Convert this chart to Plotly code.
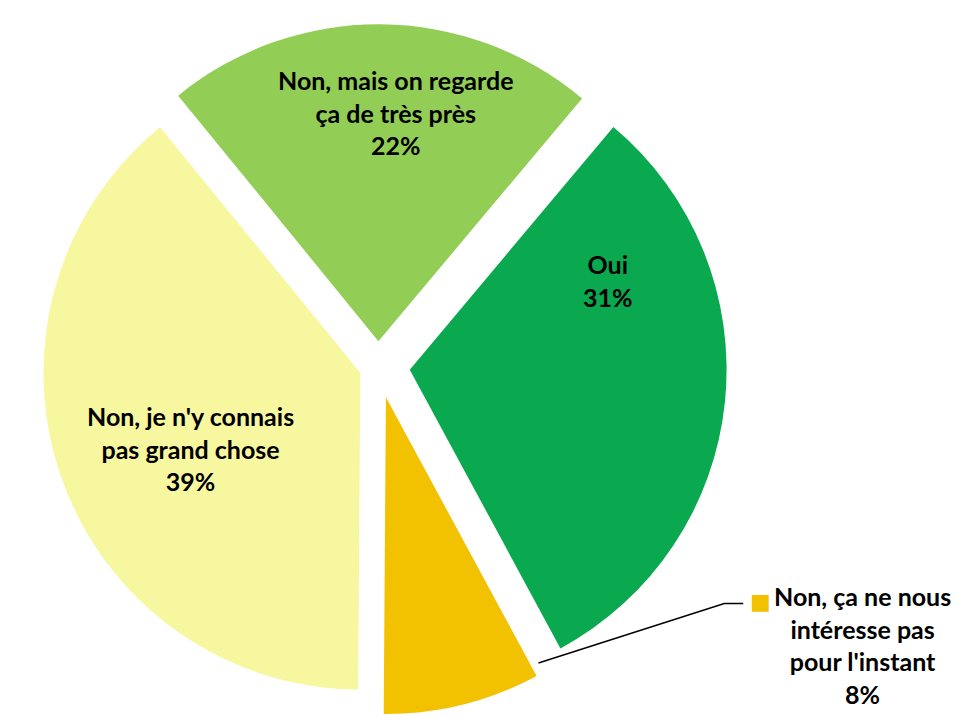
import plotly.graph_objects as go

labels = ["Oui", "Non, ça ne nous intéresse pas pour l'instant",
          "Non, je n'y connais pas grand chose", "Non, mais on regarde ça de très près"]
values = [31, 8, 39, 22]
label_lines = ["Oui", "Non, ça ne nous<br>intéresse pas<br>pour l'instant",
               "Non, je n'y connais<br>pas grand chose", "Non, mais on regarde<br>ça de très près"]
colors = ["#0AA84F", "#F2C200", "#F7F7A0", "#92CD55"]
pulls = [0.1, 0.1, 0.06, 0.08]

# label anchor positions (paper coords)
label_pos = [(0.622, 0.624), (0.891, 0.1), (0.182, 0.383), (0.399, 0.864)]

FONT = dict(family="Lato", size=25, color="#000000", weight="bold")

fig = go.Figure(go.Pie(
    labels=labels, values=values, textinfo="none",
    marker=dict(colors=colors, line=dict(width=0)),
    sort=False, direction="clockwise", rotation=40, pull=pulls,
    domain=dict(x=[0.0, 0.76], y=[0.0, 1.0]),
    showlegend=False, hoverinfo="label+percent",
))

for lab, v, (px, py) in zip(label_lines, values, label_pos):
    fig.add_annotation(
        x=px, y=py, xref="paper", yref="paper",
        xanchor="center", yanchor="middle",
        text=f"{lab}<br>{v}%", showarrow=False, align="center",
        font=FONT,
    )

fig.add_annotation(
    x=0.783, y=0.163, xref="paper", yref="paper",
    xanchor="center", yanchor="middle",
    text="■", showarrow=False,
    font=dict(family="DejaVu Sans", size=22, color="#F2C200"),
)
fig.add_shape(type="path", xref="paper", yref="paper",
              path="M 0.549 0.0746 L 0.745 0.16 L 0.765 0.16",
              line=dict(color="#000000", width=1.5))

fig.update_layout(
    width=968, height=717,
    margin=dict(l=10, r=10, t=10, b=10),
    paper_bgcolor="#FFFFFF", plot_bgcolor="#FFFFFF",
)
fig.write_html("out.html")
